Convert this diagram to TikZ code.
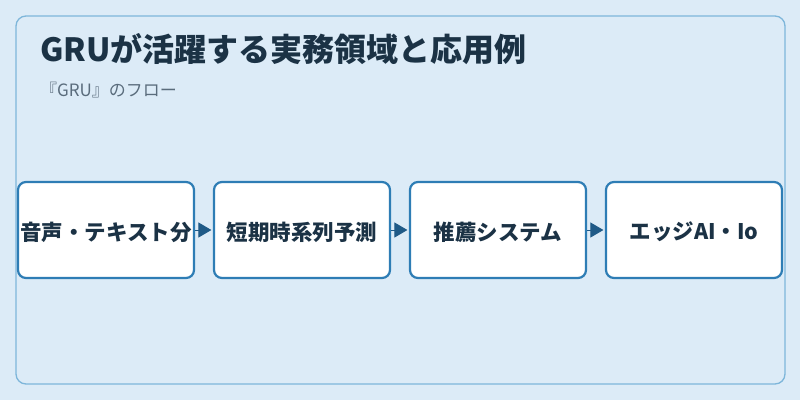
\documentclass[tikz,border=0pt]{standalone}
\usepackage{fontspec}
\setmainfont{Noto Sans CJK JP}
\usetikzlibrary{arrows.meta}
\definecolor{bgc}{HTML}{DCEBF7}
\definecolor{framec}{HTML}{7EB6DA}
\definecolor{boxc}{HTML}{2E7DB5}
\definecolor{arrc}{HTML}{1F5A87}
\definecolor{titlec}{HTML}{1B3245}
\definecolor{subc}{HTML}{5A6C7C}
\tikzset{
  stepbox/.style={draw=boxc, line width=2.2pt, fill=white, rounded corners=8pt,
    minimum width=176pt, minimum height=96pt, inner sep=0pt},
  steptext/.style={text=titlec, font=\fontsize{21.5}{24}\selectfont\bfseries, inner sep=0pt},
  flowarrow/.style={draw=arrc, line width=1pt, -{Triangle[length=13pt,width=15pt]}, shorten >=1.5pt}
}
\begin{document}
\begin{tikzpicture}[x=1pt,y=-1pt]
\fill[bgc] (0,0) rectangle (800,400);
\useasboundingbox (0,0) rectangle (800,400);
\draw[framec, line width=1.3pt, rounded corners=10pt] (16,16) rectangle (785,384);
\node[anchor=base west, text=titlec, font=\fontsize{32}{36}\selectfont\bfseries, inner sep=0pt] (title) at (40,61.5) {GRUが活躍する実務領域と応用例};
\node[anchor=base west, text=subc, font=\fontsize{17}{20}\selectfont, inner sep=0pt] (sub) at (40,96) {『GRU』のフロー};
\node[stepbox] (b1) at (106,230) {};
\node[stepbox] (b2) at (302,230) {};
\node[stepbox] (b3) at (498,230) {};
\node[stepbox] (b4) at (694,230) {};
\node[steptext] (t1) at (106,232) {音声・テキスト分};
\node[steptext] (t2) at (302,232) {短期時系列予測};
\node[steptext] (t3) at (498,232) {推薦システム};
\node[steptext] (t4) at (694,232) {エッジAI・Io};
\draw[flowarrow] (b1.east) -- (b2.west);
\draw[flowarrow] (b2.east) -- (b3.west);
\draw[flowarrow] (b3.east) -- (b4.west);
\end{tikzpicture}
\end{document}
